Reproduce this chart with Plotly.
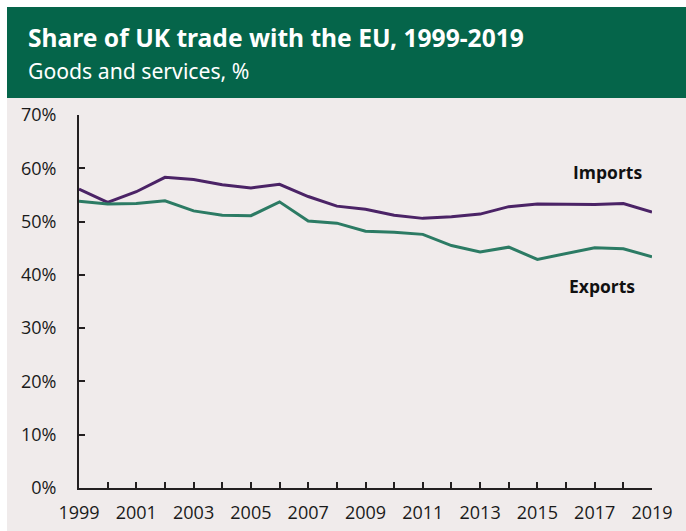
import plotly.graph_objects as go

years = list(range(1999, 2020))
imports = [56.1, 53.6, 55.6, 58.3, 57.9, 56.9, 56.3, 57.0, 54.7, 52.9, 52.3,
           51.2, 50.6, 50.9, 51.4, 52.8, 53.3, 53.2, 53.2, 53.4, 51.8]
exports = [53.8, 53.3, 53.4, 53.9, 52.0, 51.2, 51.1, 53.7, 50.1, 49.7, 48.2,
           48.0, 47.6, 45.5, 44.3, 45.2, 42.9, 44.0, 45.1, 44.9, 43.4]
series_labels = ["Imports", "Exports"]
label_pos = [(2017.45, 59.3), (2017.25, 38.0)]

W, H = 686, 531
L, R, T, B = 79, 34, 115, 43
pw, ph = W - L - R, H - T - B

def px(x):
    return (x - L) / pw

def py(y):
    return (H - B - y) / ph

PURPLE = "#4B2366"
GREEN = "#2C7B64"
HEAD = "#05654A"
BG = "#F0EBEB"

fig = go.Figure()
fig.add_trace(go.Scatter(x=years, y=imports, mode="lines",
                         line=dict(color=PURPLE, width=3), name="Imports"))
fig.add_trace(go.Scatter(x=years, y=exports, mode="lines",
                         line=dict(color=GREEN, width=3), name="Exports"))

shapes = [
    dict(type="rect", xref="paper", yref="paper", x0=px(7), x1=px(W + 2),
         y0=py(98), y1=py(7), fillcolor=HEAD, line=dict(width=0), layer="below"),
    dict(type="rect", xref="paper", yref="paper", x0=px(7), x1=px(W + 2),
         y0=py(H + 2), y1=py(98), fillcolor=BG, line=dict(width=0), layer="below"),
]

annotations = [
    dict(text="<b>Share of UK trade with the EU, 1999-2019</b>", xref="paper", yref="paper",
         x=px(26), y=py(37), xanchor="left", yanchor="middle", showarrow=False,
         font=dict(family="Noto Sans", size=24.6, color="white")),
    dict(text="Goods and services, %", xref="paper", yref="paper",
         x=px(26), y=py(71), xanchor="left", yanchor="middle", showarrow=False,
         font=dict(family="Noto Sans", size=21.2, color="white")),
]
for lab, (lx, ly) in zip(series_labels, label_pos):
    annotations.append(dict(text=f"<b>{lab}</b>", x=lx, y=ly, xref="x", yref="y",
                            showarrow=False, xanchor="center", yanchor="middle",
                            font=dict(family="Open Sans", size=17.5, color="#111111")))

fig.update_layout(
    width=W, height=H,
    margin=dict(l=L, r=R, t=T, b=B, pad=0),
    paper_bgcolor="white", plot_bgcolor="rgba(0,0,0,0)",
    showlegend=False, shapes=shapes, annotations=annotations,
    font=dict(family="Open Sans", size=18, color="#1a1a1a"),
)
fig.update_xaxes(range=[1999, 2019], tick0=1999, dtick=2, showgrid=False, zeroline=False,
                 showline=True, linecolor="#231F20", linewidth=2, automargin=False,
                 ticks="inside", ticklen=6, tickwidth=1.5, tickcolor="#231F20",
                 minor=dict(dtick=1, tick0=1999, ticks="inside", ticklen=6, tickwidth=1.5,
                            tickcolor="#231F20"),
                 ticklabelstandoff=7, tickfont=dict(size=18))
fig.update_yaxes(range=[0, 70], dtick=10, ticksuffix="%", showgrid=False, zeroline=False,
                 showline=True, linecolor="#231F20", linewidth=2, automargin=False,
                 ticks="inside", ticklen=6, tickwidth=1.5, tickcolor="#231F20",
                 ticklabelstandoff=17, tickfont=dict(size=18))

fig.write_html("out.html")
